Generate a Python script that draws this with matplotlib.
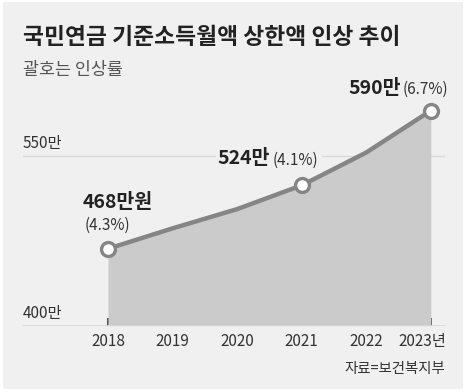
import matplotlib
matplotlib.use("Agg")
import matplotlib.pyplot as plt
from matplotlib.patches import Rectangle
import matplotlib.transforms as mtransforms

plt.rcParams['font.family'] = ['Noto Sans CJK KR', 'DejaVu Sans']

years = [2018, 2019, 2020, 2021, 2022, 2023]
values = [468, 486, 503, 524, 553, 590]
tick_labels = ['2018', '2019', '2020', '2021', '2022', '2023년']
y_ticks = [400, 550]
y_tick_labels = ['400만', '550만']
title = '국민연금 기준소득월액 상한액 인상 추이'
subtitle = '괄호는 인상률'
source = '자료=보건복지부'
marked = [0, 3, 5]
ann_first = ('468만원', '(4.3%)')
ann_mid = ('524만', '(4.1%)')
ann_last = ('590만', '(6.7%)')

BG = '#f0f0f0'
fig = plt.figure(figsize=(4.66, 3.92), dpi=100, facecolor='white')
fig.patches.append(Rectangle((3/466, 3/392), 460/466, 387/392, transform=fig.transFigure,
                             facecolor=BG, edgecolor='none', zorder=-10))

ax = fig.add_axes([23/466, (392-325.7)/392, 422/466, 249/392])
ax.set_zorder(2)
ax.set_facecolor('none')
ax.set_xlim(years[0] - 1.316, years[-1] + 0.22)
ax.set_ylim(400, 620)
for s in ax.spines.values():
    s.set_visible(False)

ax.axhline(y_ticks[1], color='#dadada', lw=1.0, zorder=1)
ax.axhline(y_ticks[0], color='#d8d8d8', lw=2.0, zorder=3)

ax.fill_between(years, values, y_ticks[0], color='#cbcbcb', lw=0, zorder=2)
ax.plot(years, values, color='#858585', lw=3.2, zorder=4, solid_capstyle='round')
ax.plot(years, values, ls='none', marker='o', ms=10, mfc='white', mec='#858585', mew=2.4,
        markevery=marked, zorder=5)

ax.set_yticks([])
ax.set_xticks(years)
ax.set_xticklabels(tick_labels[:-1] + [''], fontsize=11, color='#333333')
ax.tick_params(axis='x', direction='in', length=6, width=1.2, color='#333333', pad=5)

blend = mtransforms.blended_transform_factory(ax.transData, ax.transAxes)
ax.annotate(tick_labels[-1], xy=(years[-1], 0), xycoords=blend, xytext=(-6, -5),
            textcoords='offset points', ha='center', va='top', fontsize=11, color='#333333')

yblend = mtransforms.blended_transform_factory(ax.transAxes, ax.transData)
for yv, lab in zip(y_ticks, y_tick_labels):
    ax.annotate(lab, xy=(0, yv), xycoords=yblend, xytext=(0, 3), textcoords='offset points',
                ha='left', va='bottom', fontsize=11, color='#333333')

ax.annotate(ann_first[0], xy=(years[0], values[0]), xytext=(-18, 33), textcoords='offset points',
            ha='left', va='center', fontsize=14, fontweight='bold', color='#222222', zorder=6)
ax.annotate(ann_first[1], xy=(years[0], values[0]), xytext=(-17, 17), textcoords='offset points',
            ha='left', va='center', fontsize=11, color='#333333', zorder=6)

ax.annotate(ann_mid[1], xy=(years[3], values[3]), xytext=(-21, 18), textcoords='offset points',
            ha='left', va='center', fontsize=11, color='#333333', zorder=6,
            bbox=dict(facecolor=BG, edgecolor='none', pad=3))
ax.annotate(ann_mid[0], xy=(years[3], values[3]), xytext=(-23, 19), textcoords='offset points',
            ha='right', va='center', fontsize=14, fontweight='bold', color='#222222', zorder=7,
            bbox=dict(facecolor=BG, edgecolor='none', pad=1))
ax.annotate(ann_last[0], xy=(years[5], values[5]), xytext=(-21.5, 16), textcoords='offset points',
            ha='right', va='center', fontsize=14, fontweight='bold', color='#222222', zorder=6)
ax.annotate(ann_last[1], xy=(years[5], values[5]), xytext=(-20.5, 15), textcoords='offset points',
            ha='left', va='center', fontsize=11, color='#333333', zorder=6)

fig.text(23/466, 1 - 37/392, title, fontsize=16.4, fontweight='bold', color='#222222', ha='left', va='center')
fig.text(23/466, 1 - 70/392, subtitle, fontsize=12.5, color='#555555', ha='left', va='center')
fig.text(445/466, 1 - 369/392, source, fontsize=10.4, color='#333333', ha='right', va='center')

fig.savefig('out.png', dpi=100, facecolor='white')
